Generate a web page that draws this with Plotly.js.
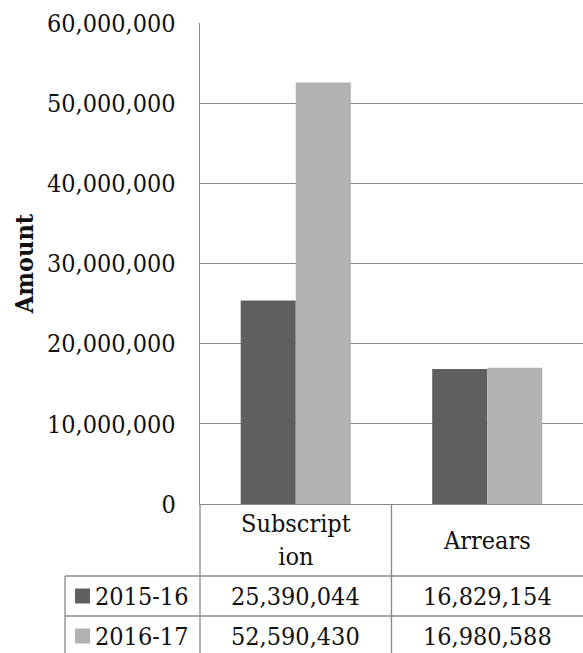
<!DOCTYPE html>
<html>
<head>
<meta charset="utf-8">
<script src="https://cdn.plot.ly/plotly-3.0.1.min.js"></script>
<style>
  html, body { margin: 0; padding: 0; background: #fff; }
  #chart { width: 583px; height: 653px; }
</style>
</head>
<body>
<div id="chart"></div>
<script>
// ---- Data ----
const categories = ['Subscription', 'Arrears'];
const categoryLabels = ['Subscript<br>ion', 'Arrears'];
const seriesNames = ['2015-16', '2016-17'];
const values2015 = [25390044, 16829154];
const values2016 = [52590430, 16980588];
const yTickVals = [0, 10000000, 20000000, 30000000, 40000000, 50000000, 60000000];
const yTickText = ['0', '10,000,000', '20,000,000', '30,000,000', '40,000,000', '50,000,000', '60,000,000'];

// ---- Styles ----
const W = 583, H = 653;
const M = { l: 200, r: 0, t: 23, b: 149 };
const FONT = '"DejaVu Serif Condensed", "DejaVu Serif", serif';
const FS = 25;
const colors = ['#5f5f5f', '#b2b2b2'];
const lineColor = '#898989';
const seriesValues = [values2015, values2016];

const plotW = W - M.l - M.r, plotH = H - M.t - M.b;
const px2x = px => (px - M.l) / plotW;
const py2y = py => (H - M.b - py) / plotH;

const fmt = v => v.toLocaleString('en-US');

const traces = seriesNames.map((name, i) => ({
  type: 'bar',
  name: name,
  x: categories,
  y: seriesValues[i],
  marker: { color: colors[i], line: { width: 0 } },
  hoverinfo: 'skip'
}));

// Table geometry (pixels)
const rowTop = [576, 616];
const rowH = 40;
const tableLeft = 65;
const headerCenter = (504 + 576) / 2;

const shapes = [];
const lineStyle = { color: lineColor, width: 1.3 };
shapes.push({ type: 'line', xref: 'paper', yref: 'paper', x0: 0, x1: 0, y0: 0, y1: py2y(H + 5), line: lineStyle });
shapes.push({ type: 'line', xref: 'x', yref: 'paper', x0: 0.5, x1: 0.5, y0: 0, y1: py2y(H + 5), line: lineStyle });
rowTop.forEach(r => {
  shapes.push({ type: 'line', xref: 'paper', yref: 'paper', x0: px2x(tableLeft), x1: 1, y0: py2y(r), y1: py2y(r), line: lineStyle });
});
shapes.push({ type: 'line', xref: 'paper', yref: 'paper', x0: px2x(tableLeft), x1: px2x(tableLeft), y0: py2y(rowTop[0]), y1: py2y(H + 5), line: lineStyle });
rowTop.forEach((r, i) => {
  const cy = r + rowH / 2;
  shapes.push({ type: 'rect', xref: 'paper', yref: 'paper', x0: px2x(75), x1: px2x(90), y0: py2y(cy + 7.5), y1: py2y(cy - 7.5), fillcolor: colors[i], line: { width: 0 } });
});

const annotations = [];
const tfont = { family: FONT, size: FS, color: '#111' };
categories.forEach((c, j) => {
  annotations.push({ xref: 'x', yref: 'paper', x: c, y: py2y(headerCenter), text: categoryLabels[j], showarrow: false, font: tfont, xanchor: 'center', yanchor: 'middle' });
  seriesValues.forEach((vals, i) => {
    annotations.push({ xref: 'x', yref: 'paper', x: c, y: py2y(rowTop[i] + rowH / 2), text: fmt(vals[j]), showarrow: false, font: tfont, xanchor: 'center', yanchor: 'middle' });
  });
});
seriesNames.forEach((n, i) => {
  annotations.push({ xref: 'paper', yref: 'paper', x: px2x(94), y: py2y(rowTop[i] + rowH / 2), text: n, showarrow: false, font: tfont, xanchor: 'left', yanchor: 'middle', borderpad: 0 });
});

const layout = {
  width: W, height: H,
  margin: M,
  paper_bgcolor: '#fff', plot_bgcolor: '#fff',
  barmode: 'group',
  bargap: 0.425,
  bargroupgap: 0,
  showlegend: false,
  font: { family: FONT, size: FS, color: '#111' },
  xaxis: {
    showticklabels: false, ticks: '',
    showgrid: false, zeroline: false,
    showline: true, linecolor: lineColor, linewidth: 1.3,
    fixedrange: true
  },
  yaxis: {
    range: [0, 60000000],
    tickvals: yTickVals, ticktext: yTickText,
    ticks: '', ticklabelstandoff: 18,
    showgrid: true, gridcolor: lineColor, gridwidth: 1.3,
    zeroline: false,
    showline: true, linecolor: lineColor, linewidth: 1.3,
    tickfont: { family: FONT, size: FS, color: '#111' },
    title: { text: '<b>Amount</b>', font: { family: FONT, size: FS, color: '#111' }, standoff: 6 },
    fixedrange: true
  },
  shapes: shapes,
  annotations: annotations
};

Plotly.newPlot('chart', traces, layout, { displayModeBar: false, staticPlot: true });
</script>
</body>
</html>
